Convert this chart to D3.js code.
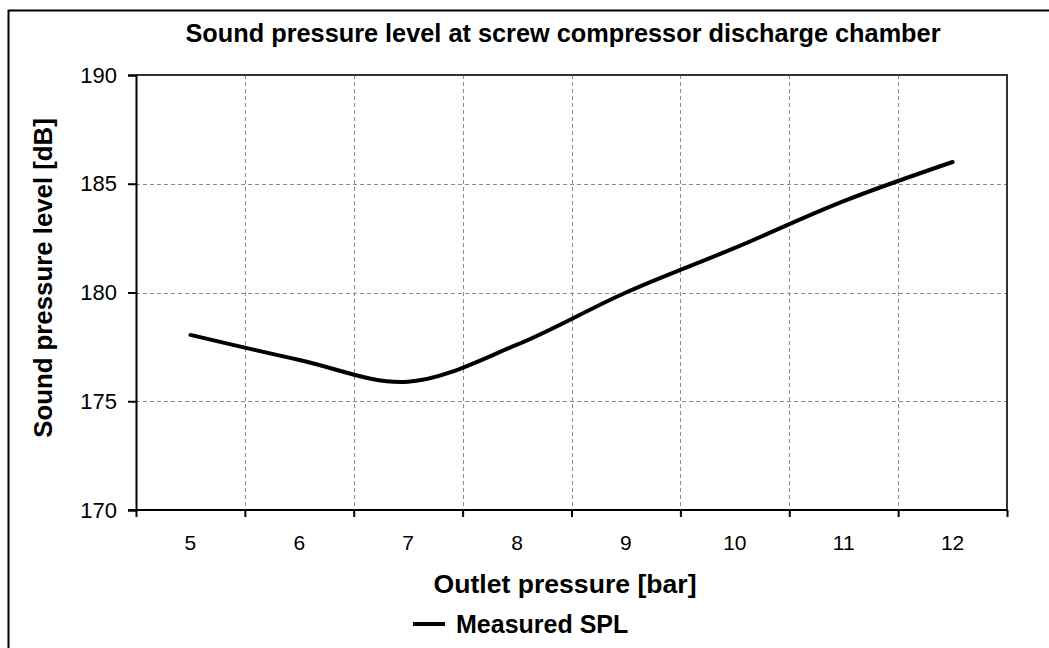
<!DOCTYPE html>
<html>
<head>
<meta charset="utf-8">
<script src="https://cdn.jsdelivr.net/npm/d3@7"></script>
<style>
    body { margin: 0; background: #fff; }
    text { font-family: "Liberation Sans", Arial, sans-serif; fill: #000; }
</style>
</head>
<body>
<div id="chart"></div>
<script>
var svgWidth = 1049;
var svgHeight = 648;

// chart data
var pressures = ["5", "6", "7", "8", "9", "10", "11", "12"];
var splValues = [178.05, 176.9, 175.9, 177.6, 180.0, 182.05, 184.2, 186.0];
var yTicks = [170, 175, 180, 185, 190];

var plot = { left: 136, right: 1007, top: 75, bottom: 510 };

var svg = d3.select("#chart")
    .append("svg")
    .attr("width", svgWidth)
    .attr("height", svgHeight);

// outer frame
svg.append("rect")
    .attr("x", 8.5)
    .attr("y", 10.5)
    .attr("width", 1050)
    .attr("height", 650)
    .attr("fill", "#fff")
    .attr("stroke", "#000")
    .attr("stroke-width", 2);

// scales
var xBand = d3.scaleBand()
    .domain(pressures)
    .range([plot.left, plot.right])
    .padding(0);

var xEdge = d3.scaleLinear()
    .domain([0, pressures.length])
    .range([plot.left, plot.right]);

var yLinearScale = d3.scaleLinear()
    .domain([170, 190])
    .range([plot.bottom, plot.top]);

// gridlines
var grid = svg.append("g")
    .attr("stroke", "#8c8c8c")
    .attr("stroke-width", 1)
    .attr("stroke-dasharray", "4,3");

grid.selectAll(".hgrid")
    .data(yTicks.filter(d => d > 170 && d < 190))
    .enter()
    .append("line")
    .attr("x1", plot.left)
    .attr("x2", plot.right)
    .attr("y1", d => Math.round(yLinearScale(d)) + 0.5)
    .attr("y2", d => Math.round(yLinearScale(d)) + 0.5);

grid.selectAll(".vgrid")
    .data(d3.range(1, pressures.length))
    .enter()
    .append("line")
    .attr("x1", d => Math.round(xEdge(d)) + 0.5)
    .attr("x2", d => Math.round(xEdge(d)) + 0.5)
    .attr("y1", plot.top)
    .attr("y2", plot.bottom);

// plot area border (top, right)
svg.append("path")
    .attr("d", `M${plot.left},${plot.top}H${plot.right}V${plot.bottom}`)
    .attr("fill", "none")
    .attr("stroke", "#333")
    .attr("stroke-width", 2);

// y axis
var leftAxis = d3.axisLeft(yLinearScale)
    .tickValues(yTicks)
    .tickSize(8)
    .tickPadding(11)
    .tickFormat(d3.format("d"));

var yAxis = svg.append("g")
    .attr("transform", `translate(${plot.left}, 0)`)
    .call(leftAxis);

yAxis.select(".domain").attr("stroke-width", 2).attr("stroke", "#000");
yAxis.selectAll(".tick line").attr("stroke-width", 2);
yAxis.selectAll("text")
    .attr("font-size", 22)
    .attr("font-family", "Liberation Sans, Arial, sans-serif");

// x axis: tick marks at category edges
var edgeAxis = d3.axisBottom(xEdge)
    .tickValues(d3.range(pressures.length + 1))
    .tickSize(7)
    .tickFormat("");

var xAxis = svg.append("g")
    .attr("transform", `translate(0, ${plot.bottom})`)
    .call(edgeAxis);

xAxis.select(".domain")
    .attr("stroke-width", 2)
    .attr("stroke", "#000")
    .attr("d", `M${plot.left - 8},0H${plot.right}`);
xAxis.selectAll(".tick line").attr("stroke-width", 2);

// x axis: labels at category centers
var labelAxis = d3.axisBottom(xBand)
    .tickSize(0)
    .tickPadding(25);

var xLabels = svg.append("g")
    .attr("transform", `translate(0, ${plot.bottom})`)
    .call(labelAxis);

xLabels.select(".domain").remove();
xLabels.selectAll("text")
    .attr("font-size", 21)
    .attr("font-family", "Liberation Sans, Arial, sans-serif");

// smoothed series line
var line = d3.line()
    .x((d, i) => xBand(pressures[i]) + xBand.bandwidth() / 2)
    .y(d => yLinearScale(d))
    .curve(d3.curveCardinal.tension(0));

svg.append("path")
    .datum(splValues)
    .attr("d", line)
    .attr("fill", "none")
    .attr("stroke", "#000")
    .attr("stroke-width", 4)
    .attr("stroke-linecap", "round")
    .attr("stroke-linejoin", "round");

// title
svg.append("text")
    .attr("x", 563)
    .attr("y", 41.5)
    .attr("text-anchor", "middle")
    .attr("font-size", 25.3)
    .attr("font-weight", "bold")
    .text("Sound pressure level at screw compressor discharge chamber");

// axis titles
svg.append("text")
    .attr("x", 565)
    .attr("y", 593)
    .attr("text-anchor", "middle")
    .attr("font-size", 26.6)
    .attr("font-weight", "bold")
    .text("Outlet pressure [bar]");

svg.append("text")
    .attr("transform", "rotate(-90)")
    .attr("x", -278)
    .attr("y", 52)
    .attr("text-anchor", "middle")
    .attr("font-size", 25.8)
    .attr("font-weight", "bold")
    .text("Sound pressure level [dB]");

// legend
var legend = svg.append("g");

legend.append("line")
    .attr("x1", 413)
    .attr("x2", 445)
    .attr("y1", 624)
    .attr("y2", 624)
    .attr("stroke", "#000")
    .attr("stroke-width", 4);

legend.append("text")
    .attr("x", 456)
    .attr("y", 633)
    .attr("font-size", 25)
    .attr("font-weight", "bold")
    .text("Measured SPL");
</script>
</body>
</html>
